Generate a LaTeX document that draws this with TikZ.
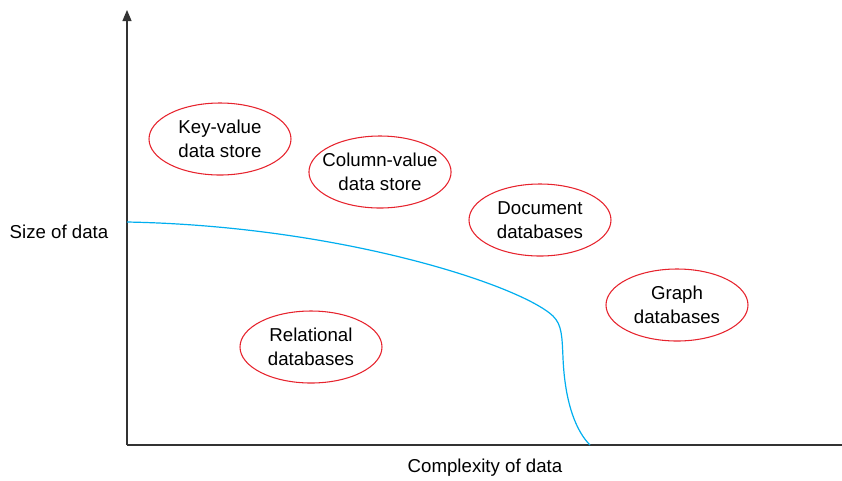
\documentclass[tikz,border=0pt]{standalone}
\usepackage{fontspec}
\setmainfont{Liberation Sans}
\usetikzlibrary{shapes.geometric, arrows}
\definecolor{ovalred}{RGB}{230,35,45}
\definecolor{curveblue}{RGB}{0,174,239}
\tikzstyle{dbtype} = [
    ellipse,
    minimum width=106.5pt,
    minimum height=54pt,
    inner sep=0pt,
    align=center,
    draw=ovalred,
    thick,
    font=\fontsize{14}{18}\selectfont
]
\tikzstyle{axislabel} = [
    font=\fontsize{14}{18}\selectfont
]
\tikzstyle{axis} = [line width=0.9pt, draw=black!80]
\tikzstyle{arrow} = [axis,->,>=triangle 45]

\begin{document}
\begin{tikzpicture}[x=0.75pt, y=-0.75pt]
\useasboundingbox (0,0) rectangle (842,480);

\coordinate (origin) at (127,445);
\coordinate (ytop) at (127,10);
\coordinate (xend) at (842,445);

\draw [arrow] (origin) -- (ytop);
\draw [axis] (origin) -- (xend);

\node (ylabel) [axislabel] at (59,232) {Size of data};
\node (xlabel) [axislabel] at (485,468) {Complexity of data};

\node (keyvalue) [dbtype] at (220,139) {Key-value\\data store};
\node (columnvalue) [dbtype, inner xsep=-5.5pt] at (380,172) {Column-value\\data store};
\node (document) [dbtype] at (540,220) {Document\\databases};
\node (graph) [dbtype] at (677,305) {Graph\\databases};
\node (relational) [dbtype] at (311,347) {Relational\\databases};

\draw [curveblue, line width=0.9pt] (127,222)
    .. controls (340,226) and (520,285) .. (553,316)
    .. controls (562,325) and (562,336) .. (563,358)
    .. controls (565,405) and (577,432) .. (590,445);

\end{tikzpicture}
\end{document}
